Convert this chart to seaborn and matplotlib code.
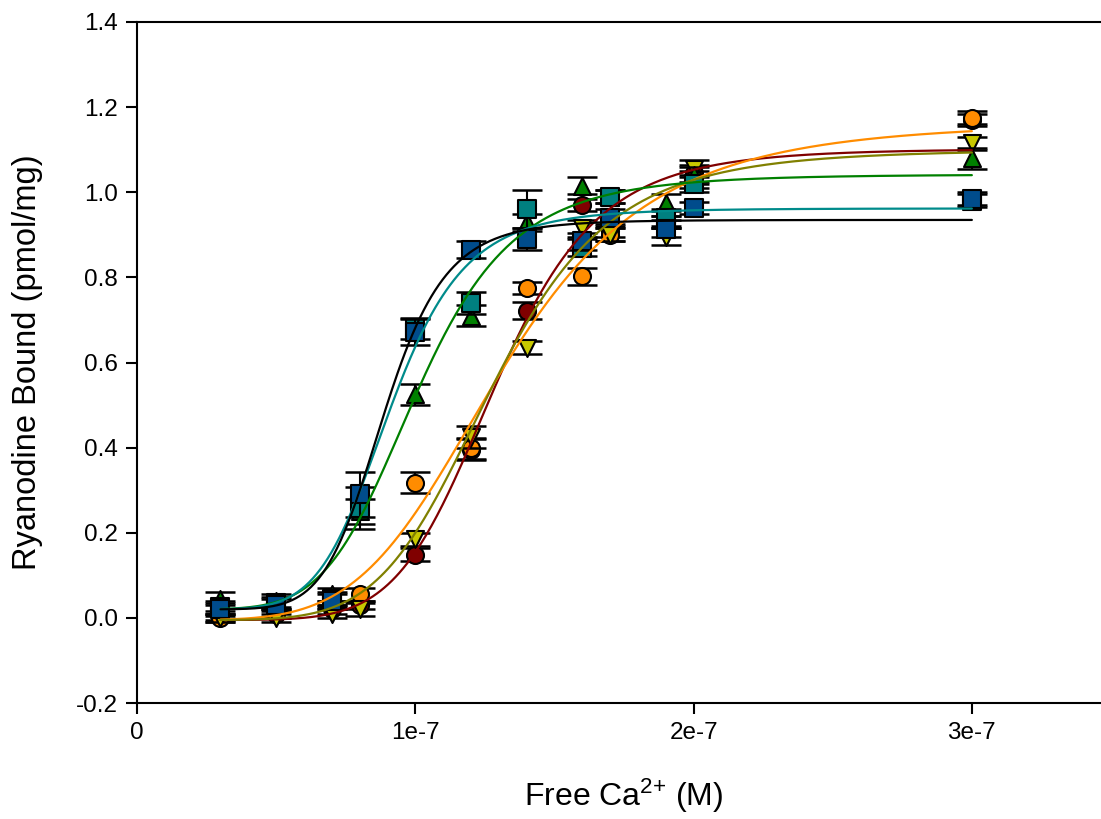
import numpy as np
import pandas as pd
import matplotlib
matplotlib.use("Agg")
import matplotlib.pyplot as plt
import seaborn as sns

# ---------------- data ----------------
x_conc = [3e-8, 5e-8, 7e-8, 8e-8, 1e-7, 1.2e-7, 1.4e-7, 1.6e-7, 1.7e-7, 1.9e-7, 2e-7, 3e-7]

teal_y   = [0.025, 0.035, 0.045, 0.258, 0.680, 0.740, 0.960, 0.870, 0.990, 0.940, 1.020, 0.980]
teal_err = [0.015, 0.015, 0.015, 0.050, 0.025, 0.025, 0.045, 0.020, 0.015, 0.020, 0.020, 0.015]

green_y   = [0.045, 0.040, 0.055, 0.250, 0.525, 0.710, 0.930, 1.015, 0.990, 0.975, 1.040, 1.080]
green_err = [0.015, 0.015, 0.015, 0.030, 0.025, 0.025, 0.020, 0.020, 0.015, 0.020, 0.020, 0.025]

red_y   = [0.005, 0.010, 0.020, 0.030, 0.148, 0.395, 0.722, 0.970, 0.910, 0.930, 1.045, 1.170]
red_err = [0.010, 0.010, 0.010, 0.010, 0.015, 0.025, 0.020, 0.015, 0.015, 0.015, 0.020, 0.015]

orange_y   = [0.000, 0.010, 0.030, 0.055, 0.318, 0.398, 0.775, 0.803, 0.900, 0.930, 1.030, 1.175]
orange_err = [0.010, 0.010, 0.010, 0.015, 0.025, 0.025, 0.015, 0.020, 0.015, 0.015, 0.020, 0.015]

yellow_y   = [0.000, 0.000, 0.010, 0.020, 0.185, 0.425, 0.635, 0.915, 0.900, 0.895, 1.055, 1.115]
yellow_err = [0.010, 0.010, 0.010, 0.015, 0.015, 0.025, 0.015, 0.020, 0.015, 0.020, 0.020, 0.015]

blue_y   = [0.020, 0.030, 0.040, 0.290, 0.672, 0.865, 0.890, 0.885, 0.940, 0.914, 0.963, 0.985]
blue_err = [0.015, 0.015, 0.015, 0.053, 0.030, 0.020, 0.025, 0.020, 0.020, 0.020, 0.015, 0.015]

# Hill-fit parameters: (bottom, top, EC50, n)
fit_black  = (0.020, 0.935, 0.887e-7, 8.0)
fit_teal   = (0.020, 0.962, 0.910e-7, 6.8)
fit_green  = (0.020, 1.042, 1.007e-7, 5.8)
fit_red    = (-0.005, 1.102, 1.29e-7, 7.0)
fit_orange = (-0.005, 1.165, 1.31e-7, 4.8)
fit_olive  = (-0.005, 1.100, 1.28e-7, 6.0)

x_ticks = [0, 1e-7, 2e-7, 3e-7]
x_tick_labels = ["0", "1e-7", "2e-7", "3e-7"]
y_ticks = [-0.2, 0.0, 0.2, 0.4, 0.6, 0.8, 1.0, 1.2, 1.4]
y_tick_labels = ["-0.2", "0.0", "0.2", "0.4", "0.6", "0.8", "1.0", "1.2", "1.4"]

# ---------------- style ----------------
sns.set_theme(style="ticks")
plt.rcParams["font.family"] = ["Liberation Sans", "DejaVu Sans"]
plt.rcParams["mathtext.fontset"] = "custom"
plt.rcParams["mathtext.rm"] = "Liberation Sans"
plt.rcParams["mathtext.it"] = "Liberation Sans:italic"

fig = plt.figure(figsize=(11.01, 8.19), dpi=100)
ax = fig.add_axes([137 / 1101, (819 - 703) / 819, 974 / 1101, 681 / 819])

series = [
    # name, y, err, marker, face color, fit, line color
    ("red", red_y, red_err, "o", "#800000", fit_red, "#800000"),
    ("orange", orange_y, orange_err, "o", "#FF8C00", fit_orange, "#FF8C00"),
    ("yellow", yellow_y, yellow_err, "v", "#C8C800", fit_olive, "#808000"),
    ("green", green_y, green_err, "^", "#008000", fit_green, "#008000"),
    ("teal", teal_y, teal_err, "s", "#008080", fit_teal, "#008B8B"),
    ("blue", blue_y, blue_err, "s", "#004C8C", fit_black, "#000000"),
]

def hill(x, p):
    b, t, ec, n = p
    x = np.asarray(x)
    return b + (t - b) * x ** n / (x ** n + ec ** n)

xs = np.linspace(3e-8, 3e-7, 400)
z = 3
for name, yv, ev, mk, fc, fit, lc in series:
    df = pd.DataFrame({"x": x_conc, "y": yv, "err": ev})
    ax.errorbar(df["x"], df["y"], yerr=df["err"], fmt="none", ecolor="black",
                elinewidth=1.5, capsize=11, capthick=1.8, zorder=z)
    sns.scatterplot(data=df, x="x", y="y", marker=mk, color=fc, s=150,
                    edgecolor="black", linewidth=1.5, ax=ax, zorder=z + 0.5,
                    legend=False)
    z += 1

for name, yv, ev, mk, fc, fit, lc in series:
    dfl = pd.DataFrame({"x": xs, "y": hill(xs, fit)})
    sns.lineplot(data=dfl, x="x", y="y", color=lc, linewidth=1.6, ax=ax,
                 zorder=20, legend=False)

ax.set_xlim(0, 3.5e-7)
ax.set_ylim(-0.2, 1.4)
ax.set_xticks(x_ticks)
ax.set_xticklabels(x_tick_labels)
ax.set_yticks(y_ticks)
ax.set_yticklabels(y_tick_labels)
ax.tick_params(axis="both", direction="out", length=8, width=1.5,
               labelsize=17.5, colors="black", pad=6)
for s in ax.spines.values():
    s.set_linewidth(1.5)
    s.set_color("black")

ax.set_xlabel(r"Free Ca$^{\mathregular{2{+}}}$ (M)", fontsize=23, color="black")
ax.set_ylabel("Ryanodine Bound (pmol/mg)", fontsize=23.5, color="black")
ax.xaxis.set_label_coords(0.5, -0.108)
ax.yaxis.set_label_coords(-0.097, 0.5)
ax.set_facecolor("white")
fig.patch.set_facecolor("white")

fig.savefig("out.png", dpi=100, facecolor="white")
